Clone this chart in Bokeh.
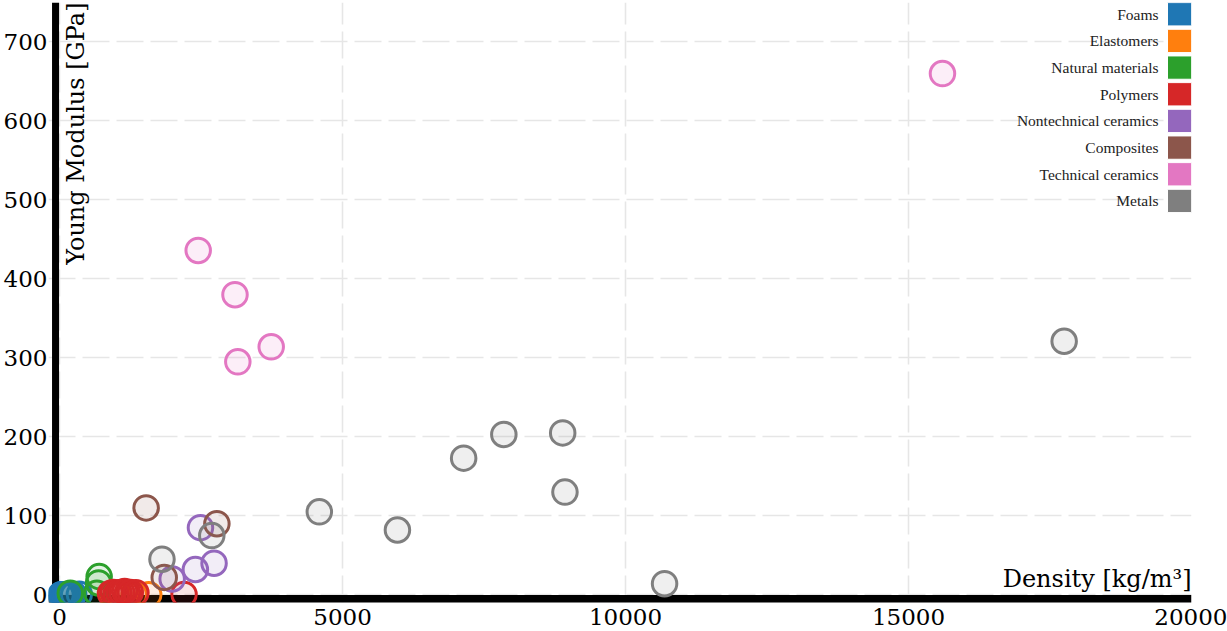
from bokeh.plotting import figure
from bokeh.models import ColumnDataSource, Span, Label, FixedTicker, Range1d
from bokeh.core.properties import value
from bokeh.embed import file_html
from bokeh.resources import INLINE

# ---------------- data ----------------
categories = ["Foams", "Elastomers", "Natural materials", "Polymers",
              "Nontechnical ceramics", "Composites", "Technical ceramics", "Metals"]
colors = ["#1f77b4", "#ff7f0e", "#2ca02c", "#d62728",
          "#9467bd", "#8c564b", "#e377c2", "#7f7f7f"]

foams_density = [25, 40, 60, 90, 120, 150, 200, 250, 350]
foams_modulus = [0.001, 0.005, 0.01, 0.03, 0.06, 0.1, 0.2, 0.3, 0.5]

elastomers_density = [920, 1050, 1200, 1320, 1576]
elastomers_modulus = [0.002, 0.01, 0.005, 0.05, 0.1]

natural_density = [190, 660, 690, 700]
natural_modulus = [2, 2, 15, 23]

polymers_density = [900, 950, 1000, 1050, 1100, 1150, 1200, 1250, 1350, 2200]
polymers_modulus = [1.5, 3, 1, 2.5, 3, 4, 2.5, 3, 2.5, 0.5]

nontech_density = [1990, 2400, 2490, 2730]
nontech_modulus = [20, 32, 85, 40]

composites_density = [1530, 1850, 2780]
composites_modulus = [110, 22, 90]

techceram_density = [2450, 3100, 3150, 3740, 15600]
techceram_modulus = [436, 380, 295, 314, 660]

metals_density = [1810, 2690, 4590, 5970, 7140, 7850, 8890, 8930, 10690, 17750]
metals_modulus = [45, 75, 105, 82, 173, 203, 205, 130, 14, 321]

x_ticks = [0, 5000, 10000, 15000, 20000]
y_ticks = [0, 100, 200, 300, 400, 500, 600, 700]

series = [
    (foams_density, foams_modulus),
    (elastomers_density, elastomers_modulus),
    (natural_density, natural_modulus),
    (polymers_density, polymers_modulus),
    (nontech_density, nontech_modulus),
    (composites_density, composites_modulus),
    (techceram_density, techceram_modulus),
    (metals_density, metals_modulus),
]

# ---------------- layout ----------------
W, H = 1227, 631
X0, X1 = -195, 20000
Y0, Y1 = -9.8, 750
FW = 1143.0   # estimated frame width (px)
FH = 600.0    # estimated frame height (px)
sx = FW / (X1 - X0)
sy = FH / (Y1 - Y0)

p = figure(width=W, height=H, output_backend="svg", toolbar_location=None,
           x_range=Range1d(X0, X1), y_range=Range1d(Y0, Y1),
           min_border_top=2, min_border_right=36, min_border_left=0, min_border_bottom=29)
p.outline_line_color = None
p.background_fill_color = "white"

for ax, ticks, stand in ((p.xaxis, x_ticks, 0), (p.yaxis, y_ticks, -5)):
    ax.ticker = FixedTicker(ticks=ticks)
    ax.axis_line_color = None
    ax.major_tick_line_color = None
    ax.minor_tick_line_color = None
    ax.major_label_text_font = "DejaVu Serif"
    ax.major_label_text_font_size = "23px"
    ax.major_label_text_color = "black"
    ax.major_label_standoff = stand

for g in (p.xgrid, p.ygrid):
    g.grid_line_color = "#e6e6e6"
    g.grid_line_width = 1.6
    g.grid_line_dash = "27 7"

# thick axis lines drawn below the markers
p.add_layout(Span(location=-4.3 / sy, dimension="width", line_color="black",
                  line_width=8, level="underlay"))
p.add_layout(Span(location=-4.0 / sx, dimension="height", line_color="black",
                  line_width=7, level="underlay"))

for (xs, ys), c in zip(series, colors):
    src = ColumnDataSource(dict(x=xs, y=ys))
    p.scatter("x", "y", source=src, marker="circle", size=24.5,
              fill_color=c, fill_alpha=0.12, line_color=c, line_width=3)

# axis titles inside the plot
p.add_layout(Label(x=0, y=Y1, x_offset=2, text="Young Modulus [GPa]", angle=90,
                   angle_units="deg", text_align="right", text_baseline="top",
                   text_font="DejaVu Serif", text_font_size="24px", text_color="black"))
p.add_layout(Label(x=X1, y=1.3 / sy, text="Density [kg/m³]", text_align="right",
                   text_baseline="bottom", text_font="DejaVu Serif",
                   text_font_size="24px", text_color="black"))

# legend on the top right: labels right-aligned, swatch to the right
n = len(categories)
leg_y = [Y1 - (11.75 + 26.67 * i) / sy for i in range(n)]
leg_x = [X1 - 12 / sx] * n
lab_x = [X1 - 33 / sx] * n
leg_src = ColumnDataSource(dict(x=leg_x, y=leg_y, lx=lab_x, c=colors, t=categories))
p.rect("x", "y", width=24 / sx, height=23.3 / sy, source=leg_src,
       fill_color="c", line_color="white", line_width=1)
p.text("lx", "y", text="t", source=leg_src, text_align="right", text_baseline="middle",
       text_font=value("Liberation Serif"), text_font_size="15.5px", text_color="#222222")

open("out.html", "w").write(file_html(p, INLINE))
